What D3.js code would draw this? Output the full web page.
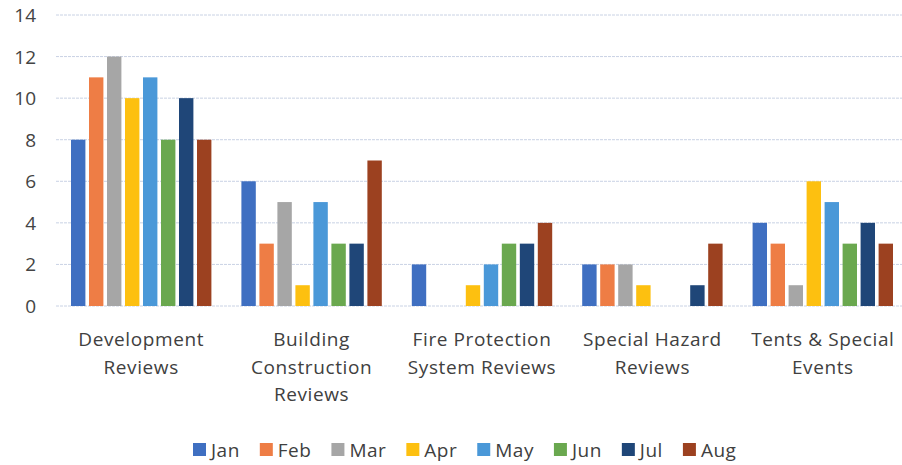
<!DOCTYPE html>
<html>
<head>
<meta charset="utf-8">
<script src="https://cdn.jsdelivr.net/npm/d3@7"></script>
<style>
  body { margin: 0; background: #fff; }
  svg { display: block; }
</style>
</head>
<body>
<div id="chart"></div>
<script>
const categories = [
  ["Development", "Reviews"],
  ["Building", "Construction", "Reviews"],
  ["Fire Protection", "System Reviews"],
  ["Special Hazard", "Reviews"],
  ["Tents & Special", "Events"]
]
const months = ["Jan", "Feb", "Mar", "Apr", "May", "Jun", "Jul", "Aug"]
const colors = ["#3f6fc1", "#ee7d45", "#a6a6a6", "#fdc010", "#4a98d8", "#6aa84f", "#1f4678", "#9c4120"]
// one row per category, one value per month
const values = [
  [8, 11, 12, 10, 11, 8, 10, 8],
  [6, 3, 5, 1, 5, 3, 3, 7],
  [2, 0, 0, 1, 2, 3, 3, 4],
  [2, 2, 2, 1, 0, 0, 1, 3],
  [4, 3, 1, 6, 5, 3, 4, 3]
]
const yTicks = [0, 2, 4, 6, 8, 10, 12, 14]

const width = 902, height = 465
const font = "'Open Sans', sans-serif"

const svg = d3.select("#chart").append("svg")
  .attr("width", width)
  .attr("height", height)

const y = d3.scaleLinear().domain([0, 14]).range([306, 15])
const x0 = d3.scaleBand()
  .domain(categories.map((d, i) => i))
  .range([56, 908])
const x1 = d3.scaleBand()
  .domain(months)
  .range([15, x0.bandwidth() - 15])
  .paddingInner(0.2)

// gridlines
svg.append("g").selectAll("line")
  .data(yTicks)
  .join("line")
    .attr("x1", 56).attr("x2", width)
    .attr("y1", d => y(d)).attr("y2", d => y(d))
    .attr("stroke", "#c9d2e4")
    .attr("stroke-width", 1)
    .attr("stroke-dasharray", "3,1")

// y tick labels
svg.append("g").selectAll("text")
  .data(yTicks)
  .join("text")
    .attr("x", 36)
    .attr("y", d => y(d) + 7)
    .attr("text-anchor", "end")
    .style("font-family", font)
    .style("font-size", "19px")
    .style("fill", "#444")
    .text(d => d)

// bars
const groups = svg.append("g").selectAll("g")
  .data(values)
  .join("g")
    .attr("transform", (d, i) => "translate(" + x0(i) + ",0)")

groups.selectAll("rect")
  .data(d => d.map((v, j) => ({ month: months[j], value: v, color: colors[j] })))
  .join("rect")
    .attr("x", d => x1(d.month))
    .attr("width", x1.bandwidth())
    .attr("y", d => y(d.value))
    .attr("height", d => y(0) - y(d.value))
    .attr("fill", d => d.color)

// category labels
svg.append("g").selectAll("text")
  .data(categories)
  .join("text")
    .attr("x", (d, i) => x0(i) + x0.bandwidth() / 2)
    .attr("y", 346)
    .attr("text-anchor", "middle")
    .style("font-family", font)
    .style("font-size", "19px")
    .style("letter-spacing", "0.6px")
    .style("fill", "#404040")
    .each(function(lines) {
      const t = d3.select(this)
      lines.forEach((l, k) => {
        t.append("tspan")
          .attr("x", t.attr("x"))
          .attr("dy", k === 0 ? 0 : 27.5)
          .text(l)
      })
    })

// legend
const legend = svg.append("g").attr("transform", "translate(0,457)")
let lx = 193
months.forEach((m, i) => {
  legend.append("rect")
    .attr("x", lx).attr("y", -14)
    .attr("width", 13).attr("height", 13)
    .attr("fill", colors[i])
  const txt = legend.append("text")
    .attr("x", lx + 18)
    .attr("y", 0)
    .style("font-family", font)
    .style("font-size", "19px")
    .style("letter-spacing", "0.5px")
    .style("fill", "#404040")
    .text(m)
  lx += 18 + txt.node().getComputedTextLength() + 20
})
</script>
</body>
</html>
